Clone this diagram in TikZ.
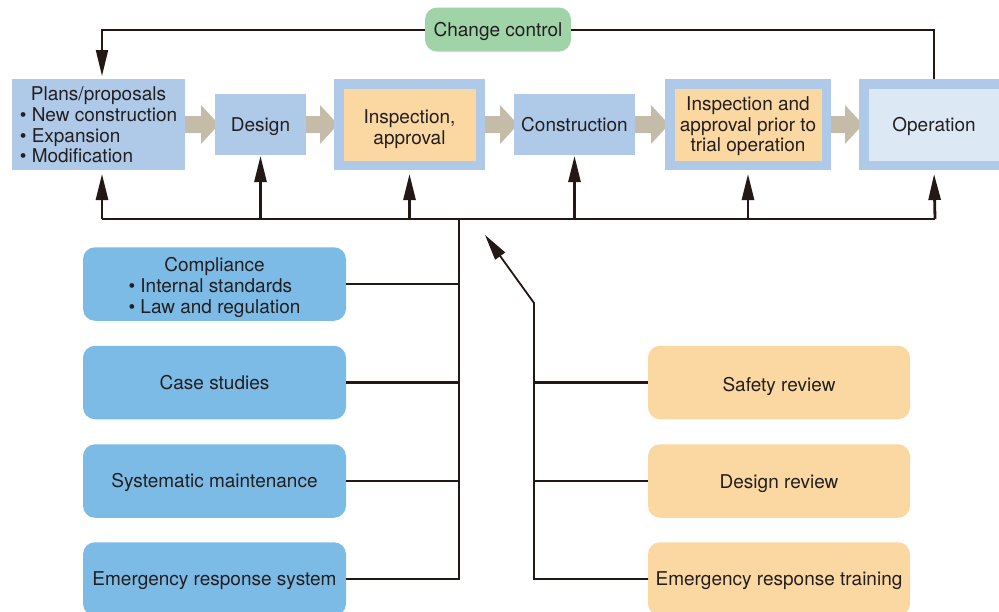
\documentclass[tikz,border=0pt]{standalone}
\usepackage{fontspec}
\setmainfont{TeX Gyre Heros}
\usetikzlibrary{arrows.meta,calc,backgrounds}
\definecolor{topblue}{HTML}{AFC9E9}
\definecolor{opinner}{HTML}{DDE8F5}
\definecolor{orangec}{HTML}{FBD7A1}
\definecolor{leftblue}{HTML}{7DBBE7}
\definecolor{greenc}{HTML}{A0D3A7}
\definecolor{fatgray}{HTML}{C4BCA8}
\definecolor{linec}{HTML}{231815}
\definecolor{txt}{HTML}{231F20}
\newcommand\fatarr[2]{\fill[fatgray] ($(#1.east)+(-1,-8.5)$) -- ($(#2.west)+(-14,-8.5)$) -- ($(#2.west)+(-14,-19.5)$) -- ($(#2.west)+(4,0)$) -- ($(#2.west)+(-14,19.5)$) -- ($(#2.west)+(-14,8.5)$) -- ($(#1.east)+(-1,8.5)$) -- cycle;}
\newcommand\lowr[2]{\raisebox{-#1}[\height][\depth]{#2}}
\begin{document}
\begin{tikzpicture}[x=1pt,y=-1pt,
  every node/.style={font=\fontsize{19}{20.8}\selectfont, text=txt, inner sep=0pt, outer sep=0pt},
  oneline/.style={text height=13.7pt, text depth=0pt},
  plainbox/.style={rectangle, fill=topblue},
  framebox/.style={rectangle, draw=topblue, line width=9.5pt, fill=orangec, outer sep=4.75pt},
  lbox/.style={rectangle, rounded corners=12pt, fill=leftblue, minimum width=263pt, minimum height=73.5pt},
  rbox/.style={rectangle, rounded corners=12pt, fill=orangec, minimum width=262pt, minimum height=73.5pt, oneline},
  ccbox/.style={rectangle, rounded corners=12pt, fill=greenc, minimum width=146pt, minimum height=44pt, oneline},
  busline/.style={draw=linec, line width=2pt},
  stub/.style={draw=linec, line width=2.8pt, -{Triangle[length=26pt,width=12pt]}},
  ccline/.style={draw=linec, line width=2pt},
  thinl/.style={draw=linec, line width=1.8pt},
  thickl/.style={draw=linec, line width=2.6pt}
]
\useasboundingbox (0,0) rectangle (999,611);
% top row
\node[plainbox, minimum width=173pt, minimum height=91pt] (plans) at (98.5,124.5)
  {\lowr{3pt}{\begin{tabular}{@{}l@{}}\multicolumn{1}{@{}c@{}}{Plans/proposals}\\
   \textbullet\ New construction\\ \textbullet\ Expansion\\ \textbullet\ Modification\end{tabular}}};
\node[plainbox, oneline, minimum width=91pt, minimum height=61pt] (design) at (260.5,124.5) {Design};
\node[framebox, minimum width=141.5pt, minimum height=81.5pt] (insp) at (409.5,124.5)
  {\lowr{5pt}{\begin{tabular}{@{}c@{}}Inspection,\\approval\end{tabular}}};
\node[plainbox, oneline, minimum width=121pt, minimum height=61pt] (constr) at (574.5,124.5) {Construction};
\node[framebox, minimum width=156.5pt, minimum height=81.5pt] (insp2) at (748,124.5)
  {\lowr{2.5pt}{\begin{tabular}{@{}c@{}}Inspection and\\approval prior to\\trial operation\end{tabular}}};
\node[framebox, oneline, fill=opinner, minimum width=140.5pt, minimum height=81.5pt] (oper) at (934,124.5) {Operation};
\node[ccbox] (cc) at (498,29.5) {Change control};
% left boxes
\node[lbox] (comp) at (214.5,284)
  {\lowr{4.5pt}{\begin{tabular}{@{}l@{}}\multicolumn{1}{@{}c@{}}{Compliance}\\
   \textbullet\ Internal standards\\ \textbullet\ Law and regulation\end{tabular}}};
\node[lbox, oneline] (case) at (214.5,382.5) {Case studies};
\node[lbox, oneline] (sysm) at (214.5,481) {Systematic maintenance};
\node[lbox, oneline] (ers) at (214.5,579) {Emergency response system};
% right boxes
\node[rbox, text height=18.7pt] (safety) at (779,382.5) {Safety review};
\node[rbox, text height=15.7pt] (desrev) at (779,481) {Design review};
\node[rbox] (train) at (779,579) {Emergency response training};
% fat arrows
\begin{pgfonlayer}{background}
\fatarr{plans}{design}
\fatarr{design}{insp}
\fatarr{insp}{constr}
\fatarr{constr}{insp2}
\fatarr{insp2}{oper}
\end{pgfonlayer}
% change control loop
\draw[ccline, -{Triangle[length=26pt,width=12pt]}, shorten >=3pt] (cc.west) -| ([xshift=3.5pt]plans.north);
\draw[ccline] (cc.east) -| (oper.north);
% bus
\coordinate (busL) at (102,219);
\coordinate (busR) at (935,219);
\coordinate (hub) at (459,219);
\draw[busline] (busL) -- (busR);
\draw[stub, shorten >=4pt] (busL) -- ([xshift=3.5pt]plans.south);
\draw[stub, shorten >=1pt] (design.south |- busL) -- (design.south);
\draw[stub, shorten >=4pt] (insp.south |- busL) -- (insp.south);
\draw[stub, shorten >=1pt] (constr.south |- busL) -- (constr.south);
\draw[stub, shorten >=4pt] (insp2.south |- busL) -- (insp2.south);
\draw[stub, shorten >=4pt] (busR) -- (oper.south);
% left trunk
\draw[thinl] (hub) -- (ers.east -| hub) -- (ers.east);
\draw[thickl] (comp.east) -- (comp.east -| hub);
\draw[thickl] (case.east) -- (case.east -| hub);
\draw[thickl] (sysm.east) -- (sysm.east -| hub);
% right trunk
\coordinate (bend) at (534,303);
\coordinate (tipd) at (485,235);
\draw[thinl, -{Triangle[length=26pt,width=12pt]}] (train.west) -- (train.west -| bend) -- (bend) -- (tipd);
\draw[thickl] (safety.west) -- (safety.west -| bend);
\draw[thickl] (desrev.west) -- (desrev.west -| bend);
\end{tikzpicture}
\end{document}
